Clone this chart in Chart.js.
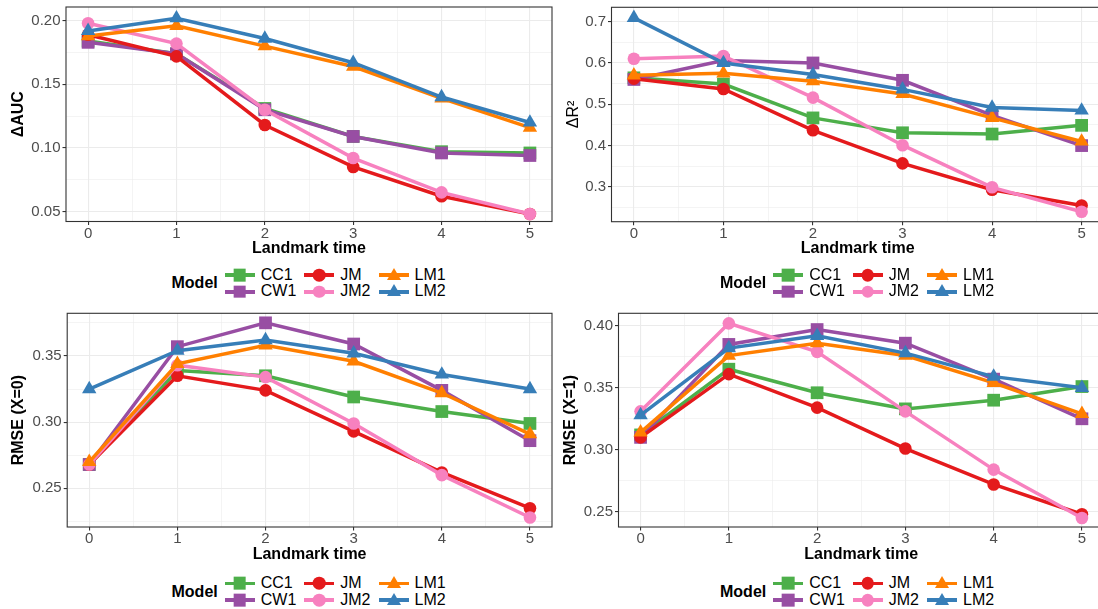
<!DOCTYPE html>
<html lang="en">
<head>
  <meta charset="UTF-8" />
  <title>Landmark models</title>
  <script src="https://cdn.jsdelivr.net/npm/chart.js"></script>
  <style>
    html, body {
      margin: 0;
      padding: 0;
      background: #fff;
      width: 1098px;
      height: 609px;
      overflow: hidden;
    }
    body {
      position: relative;
      font-family: "Liberation Sans", Arial, sans-serif;
    }
    canvas { position: absolute; }
    .legend {
      position: absolute;
      display: flex;
      align-items: center;
      white-space: nowrap;
    }
    .legend .title {
      font-weight: bold;
      font-size: 16px;
      margin-right: 7px;
    }
    .legend .keys {
      display: grid;
      grid-template-rows: 16.7px 16.7px;
      grid-auto-flow: column;
      column-gap: 8px;
    }
    .item {
      display: flex;
      align-items: center;
      font-size: 16px;
      line-height: 16.7px;
    }
    .key {
      position: relative;
      width: 30px;
      height: 16.7px;
      margin-right: 6px;
    }
    .key .line {
      position: absolute;
      left: 0;
      right: 0;
      top: 6.5px;
      height: 3.8px;
    }
    .key .mark {
      position: absolute;
      left: 50%;
      top: 50%;
      transform: translate(-50%, -50%);
    }
  </style>
</head>
<body>
  <canvas id="aucChart" width="553" height="265" style="left:0;top:0"></canvas>
  <canvas id="r2Chart" width="556" height="265" style="left:549px;top:0"></canvas>
  <canvas id="rmse0Chart" width="553" height="266" style="left:0;top:305px"></canvas>
  <canvas id="rmse1Chart" width="556" height="266" style="left:549px;top:305px"></canvas>

  <script>
    // data
    const landmarks = [0, 1, 2, 3, 4, 5];
    const models = ["CC1", "CW1", "JM", "JM2", "LM1", "LM2"];
    const modelColors = ["#4daf4a", "#984ea3", "#e41a1c", "#f781bf", "#ff7f00", "#377eb8"];
    const modelShapes = ["rect", "rect", "circle", "circle", "triangle", "triangle"];

    const cc1Auc = [0.184, 0.174, 0.131, 0.109, 0.097, 0.096];
    const cw1Auc = [0.183, 0.174, 0.130, 0.109, 0.096, 0.094];
    const jmAuc  = [0.189, 0.172, 0.118, 0.085, 0.062, 0.048];
    const jm2Auc = [0.198, 0.182, 0.130, 0.092, 0.065, 0.048];
    const lm1Auc = [0.188, 0.196, 0.180, 0.164, 0.139, 0.116];
    const lm2Auc = [0.192, 0.202, 0.186, 0.167, 0.140, 0.120];

    const cc1R2 = [0.564, 0.549, 0.467, 0.431, 0.428, 0.449];
    const cw1R2 = [0.560, 0.606, 0.600, 0.558, 0.473, 0.400];
    const jmR2  = [0.562, 0.537, 0.437, 0.357, 0.293, 0.255];
    const jm2R2 = [0.610, 0.617, 0.516, 0.401, 0.299, 0.240];
    const lm1R2 = [0.570, 0.575, 0.556, 0.525, 0.467, 0.410];
    const lm2R2 = [0.709, 0.600, 0.572, 0.536, 0.492, 0.485];

    const cc1Rmse0 = [0.268, 0.339, 0.335, 0.319, 0.308, 0.299];
    const cw1Rmse0 = [0.268, 0.357, 0.375, 0.359, 0.324, 0.286];
    const jmRmse0  = [0.268, 0.335, 0.324, 0.293, 0.262, 0.235];
    const jm2Rmse0 = [0.268, 0.343, 0.334, 0.299, 0.260, 0.228];
    const lm1Rmse0 = [0.270, 0.344, 0.358, 0.346, 0.322, 0.291];
    const lm2Rmse0 = [0.325, 0.354, 0.362, 0.352, 0.336, 0.325];

    const cc1Rmse1 = [0.312, 0.365, 0.346, 0.333, 0.340, 0.351];
    const cw1Rmse1 = [0.310, 0.385, 0.397, 0.386, 0.357, 0.325];
    const jmRmse1  = [0.310, 0.361, 0.334, 0.301, 0.272, 0.248];
    const jm2Rmse1 = [0.331, 0.402, 0.379, 0.331, 0.284, 0.245];
    const lm1Rmse1 = [0.314, 0.376, 0.386, 0.376, 0.354, 0.329];
    const lm2Rmse1 = [0.328, 0.382, 0.392, 0.378, 0.359, 0.350];

    // axis breaks
    const xMajor = [0, 1, 2, 3, 4, 5];
    const xMinor = [0.5, 1.5, 2.5, 3.5, 4.5];
    const aucMajor = [0.05, 0.10, 0.15, 0.20];
    const aucMinor = [0.075, 0.125, 0.175];
    const r2Major = [0.3, 0.4, 0.5, 0.6, 0.7];
    const r2Minor = [0.25, 0.35, 0.45, 0.55, 0.65];
    const rmse0Major = [0.25, 0.30, 0.35];
    const rmse0Minor = [0.225, 0.275, 0.325, 0.375];
    const rmse1Major = [0.25, 0.30, 0.35, 0.40];
    const rmse1Minor = [0.275, 0.325, 0.375];

    const tickFont = { family: "'Liberation Sans', Arial, sans-serif", size: 15, lineHeight: 1 };
    const titleFont = { family: "'Liberation Sans', Arial, sans-serif", size: 16, weight: "bold" };

    const panelBorder = {
      id: "panelBorder",
      afterDatasetsDraw(chart) {
        const { ctx, chartArea: a } = chart;
        ctx.save();
        ctx.strokeStyle = "#333333";
        ctx.lineWidth = 1.1;
        ctx.strokeRect(a.left, a.top, a.right - a.left, a.bottom - a.top);
        ctx.restore();
      }
    };

    function gridOpts(major) {
      const isMajor = c => c.tick && major.includes(c.tick.value);
      return {
        color: "#ebebeb",
        lineWidth: c => isMajor(c) ? 1.1 : 0.55,
        tickColor: c => isMajor(c) ? "#333333" : "rgba(0,0,0,0)",
        tickWidth: 1.1,
        tickLength: 3.5,
        drawTicks: true
      };
    }

    function makeDatasets(series) {
      return models.map((m, i) => ({
        label: m,
        data: landmarks.map((t, j) => ({ x: t, y: series[i][j] })),
        borderColor: modelColors[i],
        backgroundColor: modelColors[i],
        pointBackgroundColor: modelColors[i],
        pointBorderWidth: 0,
        pointStyle: modelShapes[i],
        pointRadius: modelShapes[i] === "rect" ? 9 : modelShapes[i] === "triangle" ? 8.3 : 6.3,
        borderWidth: 3.5,
        tension: 0,
        order: models.length - i,
        clip: false
      }));
    }

    function drawPanel(id, series, p) {
      new Chart(document.getElementById(id), {
        type: "line",
        data: { datasets: makeDatasets(series) },
        options: {
          responsive: false,
          animation: false,
          events: [],
          layout: { autoPadding: false, padding: { top: p.padTop, right: 1, left: 0, bottom: 0 } },
          plugins: { legend: { display: false }, tooltip: { enabled: false } },
          scales: {
            x: {
              type: "linear",
              min: -0.25,
              max: 5.25,
              afterBuildTicks: s => { s.ticks = [...xMajor, ...xMinor].sort((a, b) => a - b).map(v => ({ value: v })); },
              afterFit: s => { s.height = p.xHeight; s.paddingLeft = 0; s.paddingRight = 0; },
              ticks: {
                autoSkip: false, maxRotation: 0, padding: 1, color: "#4d4d4d", font: tickFont,
                callback: v => xMajor.includes(v) ? String(v) : ""
              },
              grid: gridOpts(xMajor),
              border: { display: false },
              title: { display: true, text: "Landmark time", color: "#000", font: titleFont, padding: { top: 0, bottom: p.xTitlePad } }
            },
            y: {
              type: "linear",
              min: p.yMin,
              max: p.yMax,
              afterBuildTicks: s => { s.ticks = [...p.major, ...p.minor].sort((a, b) => a - b).map(v => ({ value: v })); },
              afterFit: s => { s.width = p.yWidth; s.paddingTop = 0; s.paddingBottom = 0; },
              ticks: {
                autoSkip: false, padding: 2, color: "#4d4d4d", font: tickFont,
                callback: v => p.major.includes(v) ? v.toFixed(p.dec) : ""
              },
              grid: gridOpts(p.major),
              border: { display: false },
              title: {
                display: true, text: p.yTitle, color: "#000",
                font: Object.assign({}, titleFont, p.yTitleWeight ? { weight: p.yTitleWeight } : {}),
                padding: { top: p.yTitlePad, bottom: 0 }
              }
            }
          }
        },
        plugins: [panelBorder]
      });
    }

    drawPanel("aucChart", [cc1Auc, cw1Auc, jmAuc, jm2Auc, lm1Auc, lm2Auc], {
      padTop: 7, xHeight: 43.5, xTitlePad: 6.6, yWidth: 66, yTitlePad: 9.4,
      yMin: 0.0421, yMax: 0.2108, major: aucMajor, minor: aucMinor, dec: 2, yTitle: "ΔAUC"
    });
    drawPanel("r2Chart", [cc1R2, cw1R2, jmR2, jm2R2, lm1R2, lm2R2], {
      padTop: 7.3, xHeight: 43.3, xTitlePad: 6.6, yWidth: 62.5, yTitlePad: 14.9,
      yMin: 0.2158, yMax: 0.7347, major: r2Major, minor: r2Minor, dec: 1, yTitle: "ΔR²", yTitleWeight: "normal"
    });
    drawPanel("rmse0Chart", [cc1Rmse0, cw1Rmse0, jmRmse0, jm2Rmse0, lm1Rmse0, lm2Rmse0], {
      padTop: 8.3, xHeight: 44, xTitlePad: 6.6, yWidth: 67.2, yTitlePad: 9.4,
      yMin: 0.2208, yMax: 0.3822, major: rmse0Major, minor: rmse0Minor, dec: 2, yTitle: "RMSE (X=0)"
    });
    drawPanel("rmse1Chart", [cc1Rmse1, cw1Rmse1, jmRmse1, jm2Rmse1, lm1Rmse1, lm2Rmse1], {
      padTop: 8.3, xHeight: 44, xTitlePad: 6.6, yWidth: 69.5, yTitlePad: 12.1,
      yMin: 0.2377, yMax: 0.4101, major: rmse1Major, minor: rmse1Minor, dec: 2, yTitle: "RMSE (X=1)"
    });

    // ggplot-style legends, built from the same model arrays
    function markHtml(shape, color) {
      if (shape === "rect") return `<div class="mark" style="width:12.7px;height:12.7px;background:${color}"></div>`;
      if (shape === "circle") return `<div class="mark" style="width:12.6px;height:12.6px;border-radius:50%;background:${color}"></div>`;
      return `<div class="mark" style="width:0;height:0;margin-top:-1.5px;border-left:7.3px solid transparent;border-right:7.3px solid transparent;border-bottom:12.6px solid ${color}"></div>`;
    }

    function addLegend(left, top) {
      const box = document.createElement("div");
      box.className = "legend";
      box.style.left = left + "px";
      box.style.top = top + "px";
      const items = models.map((m, i) =>
        `<div class="item"><div class="key"><div class="line" style="background:${modelColors[i]}"></div>${markHtml(modelShapes[i], modelColors[i])}</div>${m}</div>`
      ).join("");
      box.innerHTML = `<div class="title">Model</div><div class="keys">${items}</div>`;
      document.body.appendChild(box);
    }

    addLegend(171.5, 266.7);
    addLegend(720, 266.7);
    addLegend(171.5, 575);
    addLegend(720, 575);
  </script>
</body>
</html>
